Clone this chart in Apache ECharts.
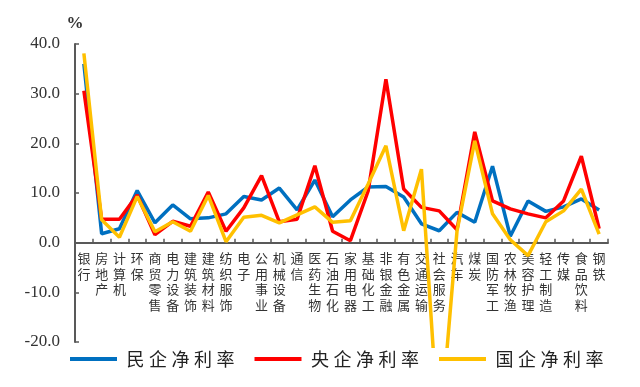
<!DOCTYPE html>
<html><head><meta charset="utf-8">
<script src="https://cdn.jsdelivr.net/npm/echarts@6/dist/echarts.min.js"></script>
<style>html,body{margin:0;padding:0;background:#fff}#c{width:640px;height:387px}</style>
</head><body><div id="c"></div>
<script>
const categories = ['银行','房地产','计算机','环保','商贸零售','电力设备','建筑装饰','建筑材料','纺织服饰','电子','公用事业','机械设备','通信','医药生物','石油石化','家用电器','基础化工','非银金融','有色金属','交通运输','社会服务','汽车','煤炭','国防军工','农林牧渔','美容护理','轻工制造','传媒','食品饮料','钢铁'];
const privateRate = [36.0,1.8,2.8,10.5,4.0,7.6,4.8,5.0,5.8,9.3,8.6,11.0,6.6,12.6,5.2,8.6,11.2,11.3,9.2,3.8,2.4,6.1,4.1,15.4,1.3,8.4,6.3,7.2,8.8,6.6];
const centralRate = [30.6,4.7,4.7,9.6,1.6,4.3,3.3,10.2,2.3,7.0,13.5,4.2,4.7,15.5,2.3,0.4,10.4,32.9,10.8,7.1,6.4,2.6,22.3,8.4,6.8,5.8,5.0,8.4,17.4,2.8];
const stateRate = [38.1,4.6,1.1,9.3,2.2,4.2,2.3,9.5,0.2,5.1,5.5,4.0,5.6,7.2,4.1,4.4,11.8,19.5,2.4,14.8,-40.0,2.3,20.5,5.8,0.6,-2.6,4.2,6.4,10.8,1.7];
const seriesNames = ['民企净利率','央企净利率','国企净利率'];
const yTicks = {min:-20, max:40, interval:10};

const colors = ['#0070C0','#FF0000','#FFC000'];
const G = {left:75, right:32, top:44, bottom:45, height:387-44-45};
const zeroOffset = -G.height * (0 - yTicks.min) / (yTicks.max - yTicks.min);
const chart = echarts.init(document.getElementById('c'), null, {renderer:'canvas'});
const mk = (name, data, color) => ({
  name, type:'line', data, symbol:'none', smooth:false, clip:false,
  lineStyle:{color, width:3.5}, itemStyle:{color}
});
chart.setOption({
  animation:false,
  backgroundColor:'#fff',
  grid:{left:G.left, right:G.right, top:G.top, bottom:G.bottom, containLabel:false, outerBoundsMode:'none'},
  legend:{
    data:seriesNames, top:348, left:50, icon:'rect', itemWidth:47, itemHeight:4, itemGap:20,
    backgroundColor:'#fff', padding:[2,20,40,20],
    textStyle:{fontFamily:'Noto Sans CJK SC', fontSize:18, color:'#222'},
    formatter: n => '\u2005' + n.split('').join('\u2005')
  },
  xAxis:{
    type:'category', data:categories, boundaryGap:true, position:'bottom', offset:zeroOffset,
    axisLine:{onZero:false, lineStyle:{color:'#595959', width:2}},
    axisTick:{show:true, inside:true, length:4, lineStyle:{color:'#595959', width:1.5}},
    axisLabel:{interval:0, margin:8, color:'#333', fontFamily:'Noto Sans CJK SC', fontSize:13, lineHeight:15.5,
      verticalAlign:'top', formatter: v => v.split('').join('\n')}
  },
  yAxis:{
    type:'value', min:yTicks.min, max:yTicks.max, interval:yTicks.interval,
    name:'%', nameLocation:'end', nameGap:12,
    nameTextStyle:{fontFamily:'Liberation Serif', fontSize:17, fontWeight:'bold', color:'#333', align:'center'},
    axisLine:{show:true, lineStyle:{color:'#595959', width:2}},
    axisTick:{show:true, inside:true, length:4, lineStyle:{color:'#595959', width:1.5}},
    splitLine:{show:false},
    axisLabel:{margin:15, color:'#333', fontFamily:'Liberation Serif', fontSize:17, formatter: v => v.toFixed(1)}
  },
  series:[
    mk(seriesNames[0], privateRate, colors[0]),
    mk(seriesNames[1], centralRate, colors[1]),
    mk(seriesNames[2], stateRate, colors[2])
  ]
});
</script></body></html>
